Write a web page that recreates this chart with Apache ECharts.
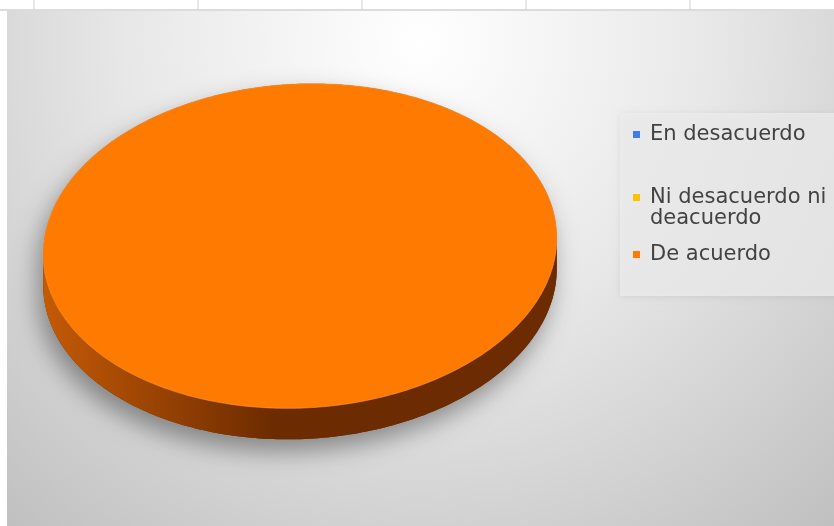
<!DOCTYPE html>
<html>
<head>
<meta charset="utf-8">
<script src="https://cdn.jsdelivr.net/npm/echarts@6/dist/echarts.min.js"></script>
<style>
  html, body { margin: 0; padding: 0; background: #ffffff; }
  #chart { width: 834px; height: 526px; }
</style>
</head>
<body>
<div id="chart"></div>
<script>
// Survey answers and their counts
const categories = ['En desacuerdo', 'Ni desacuerdo ni deacuerdo', 'De acuerdo'];
const values = [0, 0, 100];

// Slice colours: top face and darker side wall
const topColors = ['#3f7fe3', '#ffc000', '#ff7a00'];
const sideStops = [
  ['#2f5fae', '#1f3f77'],
  ['#c79400', '#7f5e00'],
  ['#c45a06', '#6c2b00']
];

// Tilted 3D pie geometry
const PIE = { cx: 300, cy: 246, rx: 257, ry: 162, depth: 31, tilt: -3 * Math.PI / 180 };

function pt(t, dy) {
  const x = PIE.rx * Math.cos(t), y = PIE.ry * Math.sin(t);
  const ct = Math.cos(PIE.tilt), st = Math.sin(PIE.tilt);
  return [PIE.cx + x * ct - y * st, PIE.cy + x * st + y * ct + dy];
}
function arc(a, b, dy) {
  const n = Math.max(2, Math.ceil(Math.abs(b - a) / (Math.PI / 180)));
  const out = [];
  for (let k = 0; k <= n; k++) out.push(pt(a + (b - a) * k / n, dy));
  return out;
}
function centerPt(dy) { return [PIE.cx, PIE.cy + dy]; }

// front half of the rim, between the leftmost and rightmost silhouette points
const T0 = Math.atan(-(PIE.ry * Math.sin(PIE.tilt)) / (PIE.rx * Math.cos(PIE.tilt)));

function sideGradient(i) {
  return {
    type: 'linear', x: 0, y: 0, x2: 1, y2: 0,
    colorStops: [
      { offset: 0, color: sideStops[i][0] },
      { offset: 0.45, color: sideStops[i][1] },
      { offset: 1, color: sideStops[i][1] }
    ]
  };
}

function renderSlice(params, api) {
  const i = params.seriesIndex;
  const v = api.value(0);
  const total = values.reduce((s, x) => s + x, 0);
  if (!v || !total) return { type: 'group', children: [] };
  const before = values.slice(0, i).reduce((s, x) => s + x, 0);
  const a0 = -Math.PI / 2 + 2 * Math.PI * before / total;
  const a1 = a0 + 2 * Math.PI * v / total;
  const full = v >= total;
  const children = [];

  // side wall segments that face the viewer
  const segs = [];
  for (let shift = -2; shift <= 2; shift++) {
    const s = Math.max(a0, T0 + shift * 2 * Math.PI);
    const e = Math.min(a1, T0 + Math.PI + shift * 2 * Math.PI);
    if (e > s) segs.push([s, e]);
  }

  if (full) {
    // silhouette carrying the drop shadow
    const silhouette = arc(T0 + Math.PI, T0 + 2 * Math.PI, 0)
      .concat(arc(T0, T0 + Math.PI, PIE.depth));
    children.push({
      type: 'polygon',
      shape: { points: silhouette },
      style: {
        fill: sideStops[i][1],
        shadowBlur: 24, shadowColor: 'rgba(0,0,0,0.38)',
        shadowOffsetX: -5, shadowOffsetY: 12
      }
    });
  }
  segs.forEach(([s, e]) => {
    const pts = arc(s, e, 0).concat(arc(e, s, PIE.depth));
    children.push({ type: 'polygon', shape: { points: pts }, style: { fill: sideGradient(i) } });
  });

  const topPts = full ? arc(0, 2 * Math.PI, 0) : [centerPt(0)].concat(arc(a0, a1, 0));
  children.push({
    type: 'polygon',
    shape: { points: topPts },
    style: { fill: topColors[i], stroke: 'rgba(255,160,80,0.55)', lineWidth: 1 }
  });
  return { type: 'group', children };
}

const series = categories.map((name, i) => ({
  type: 'custom',
  name: name,
  coordinateSystem: 'none',
  itemStyle: { color: topColors[i] },
  data: [[values[i]]],
  renderItem: renderSlice,
  silent: true
}));

const legendCommon = {
  orient: 'vertical',
  left: 633,
  icon: 'rect',
  itemWidth: 7,
  itemHeight: 7,
  padding: 0,
  selectedMode: false,
  textStyle: {
    fontFamily: 'DejaVu Sans',
    fontSize: 21,
    lineHeight: 21,
    color: '#424242',
    padding: [0, 0, 0, 5]
  }
};

const option = {
  backgroundColor: '#ffffff',
  animation: false,
  graphic: [
    // chart area with soft radial shading
    {
      type: 'rect', z: -10, silent: true,
      shape: { x: 7, y: 11, width: 827, height: 515 },
      style: {
        fill: {
          type: 'radial', x: 0.5, y: 0.06, r: 1.25,
          colorStops: [
            { offset: 0, color: '#ffffff' },
            { offset: 0.45, color: '#e8e8e8' },
            { offset: 1, color: '#bfbfbf' }
          ]
        }
      }
    },
    // table rule above the chart
    { type: 'line', z: -9, silent: true, shape: { x1: 0, y1: 10, x2: 834, y2: 10 }, style: { stroke: '#b9b9b9', lineWidth: 1 } },
    ...[34, 198, 362, 526, 690].map(x => ({
      type: 'line', z: -9, silent: true,
      shape: { x1: x, y1: 0, x2: x, y2: 10 },
      style: { stroke: '#cfcfcf', lineWidth: 1 }
    })),
    // legend panel
    {
      type: 'rect', z: -8, silent: true,
      shape: { x: 620, y: 113, width: 220, height: 183 },
      style: { fill: 'rgba(238,238,238,0.75)', shadowBlur: 6, shadowColor: 'rgba(0,0,0,0.10)', shadowOffsetY: 1 }
    }
  ],
  legend: [
    Object.assign({}, legendCommon, { top: 124, data: [categories[0]] }),
    Object.assign({}, legendCommon, {
      top: 166,
      data: [categories[1]],
      // leading blank line keeps the marker level with the first line
      formatter: name => '\n' + name.replace(' deacuerdo', '\ndeacuerdo')
    }),
    Object.assign({}, legendCommon, { top: 244, data: [categories[2]] })
  ],
  series: series
};

const chart = echarts.init(document.getElementById('chart'), null, { renderer: 'canvas' });
chart.setOption(option);
</script>
</body>
</html>
